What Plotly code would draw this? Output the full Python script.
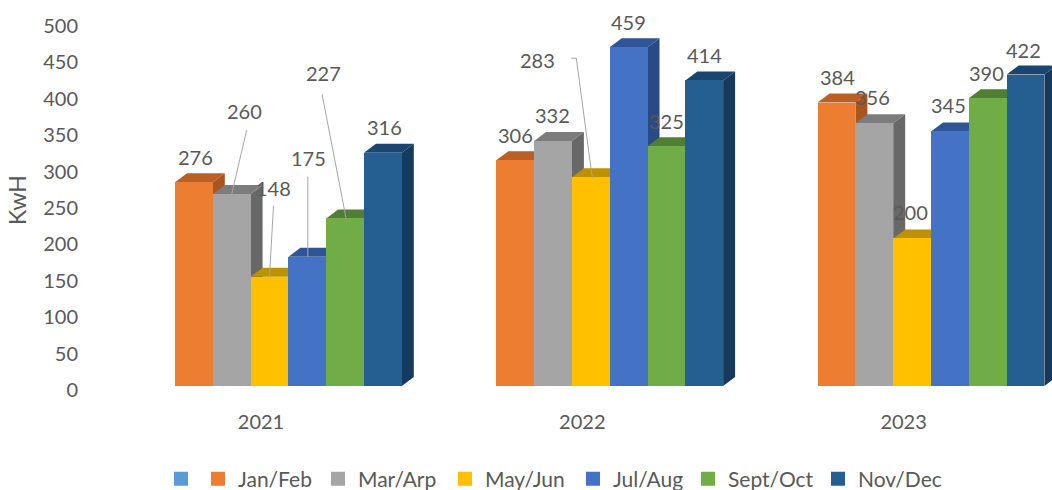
import plotly.graph_objects as go

years = ["2021", "2022", "2023"]
series = ["Jan/Feb", "Mar/Arp", "May/Jun", "Jul/Aug", "Sept/Oct", "Nov/Dec"]
jan_feb = [276, 306, 384]
mar_apr = [260, 332, 356]
may_jun = [148, 283, 200]
jul_aug = [175, 459, 345]
sep_oct = [227, 325, 390]
nov_dec = [316, 414, 422]
values = [jan_feb, mar_apr, may_jun, jul_aug, sep_oct, nov_dec]

front = ["#ED7D31", "#A5A5A5", "#FFC000", "#4472C4", "#70AD47", "#255E91"]
top = ["#BC5F22", "#7C7C7C", "#BF9000", "#2F5597", "#507E32", "#1A4570"]
side = ["#A9561E", "#686868", "#A67D00", "#284A85", "#46702B", "#163A5C"]
TEXT = "#595959"
FONT = "Lato"

W, H = 1052, 490
ML, MR, MT, MB = 84, 0, 0, 90
PW, PH = W - ML - MR, H - MT - MB
GROUP_PX = 321.3
XL0_PX = 261  # pixel of the first category tick
x_range = [(ML - XL0_PX) / GROUP_PX, (W - XL0_PX) / GROUP_PX]
bar_w = 37.8 / GROUP_PX
group_off = -86 / GROUP_PX
BAR_SCALE = 0.738
AX_SCALE = 0.728
y_tick_range = [-(PH - 390) / AX_SCALE, 390 / AX_SCALE]
y_bar_range = [-(PH - 386) / BAR_SCALE, 386 / BAR_SCALE]
DX = 12 / GROUP_PX
DY = 9 / BAR_SCALE


def cx(g, s):
    return g + group_off + (s + 0.5) * bar_w


fig = go.Figure()

# Faces (behind the fronts), left to right
for g in range(len(years)):
    for s in range(len(series)):
        v = values[s][g]
        l = cx(g, s) - bar_w / 2
        r = l + bar_w
        fig.add_trace(go.Scatter(
            x=[r, r + DX, r + DX, r, r], y=[0, DY, v + DY, v, 0], mode="lines",
            fill="toself", fillcolor=side[s], line=dict(width=0), yaxis="y2",
            showlegend=False, hoverinfo="skip"))
        fig.add_trace(go.Scatter(
            x=[l, r, r + DX, l + DX, l], y=[v, v, v + DY, v + DY, v], mode="lines",
            fill="toself", fillcolor=top[s], line=dict(width=0), yaxis="y2",
            showlegend=False, hoverinfo="skip"))

# Fronts
for s in range(len(series)):
    fig.add_trace(go.Bar(
        x=[cx(g, s) for g in range(len(years))], y=values[s], width=bar_w,
        marker=dict(color=front[s], line=dict(width=0)), yaxis="y3",
        showlegend=False, name=series[s]))

# Leader lines: (group, series, px offsets from bar-top centre)
leaders = [
    (0, 1, [(15, 64), (0, 0)]),
    (0, 2, [(4, 71), (0, 0)]),
    (0, 3, [(0.5, 80), (0.5, 0)]),
    (0, 4, [(-23, 124), (1, 0)]),
    (1, 2, [(-19.5, 119), (-14.5, 119), (1.5, -1)]),
]
lx, ly = [], []
for g, s, pts in leaders:
    for dx, dy in pts:
        lx.append(cx(g, s) + dx / GROUP_PX)
        ly.append(values[s][g] + dy / BAR_SCALE)
    lx.append(None)
    ly.append(None)
fig.add_trace(go.Scatter(x=lx, y=ly, mode="lines", yaxis="y3",
                         line=dict(color="#A6A6A6", width=1),
                         showlegend=False, hoverinfo="skip"))

# Data-label offsets in px
label_off = [
    [(2, 25), (0.5, 25), (1, 26)],
    [(13, 83), (-0.5, 26), (-2, 26)],
    [(4, 89), (-53, 117), (-2, 26)],
    [(1, 99), (0, 25), (-1, 26)],
    [(-22, 145), (0, 25), (-1, 25)],
    [(2, 26), (0, 25), (-2, 25)],
]
annotations = []
for s in range(len(series)):
    for g in range(len(years)):
        ox, oy = label_off[s][g]
        annotations.append(dict(
            x=cx(g, s), y=values[s][g], xref="x", yref="y3", text=str(values[s][g]),
            showarrow=False, xshift=ox, yshift=oy, xanchor="center", yanchor="middle",
            font=dict(family=FONT, size=20, color=TEXT)))

# Legend: one legend per entry (blank first series included)
legend_names = [" "] + series
legend_colors = ["#5B9BD5"] + front
legend_centers = [178, 215, 335, 462, 590, 705, 835]
layout_legends = {}
for i, (nm, c, pos) in enumerate(zip(legend_names, legend_colors, legend_centers)):
    key = "legend" if i == 0 else f"legend{i + 1}"
    fig.add_trace(go.Scatter(x=[None], y=[None], mode="markers", name=nm,
                             marker=dict(symbol="square", size=14, color=c),
                             legend=key, showlegend=True, hoverinfo="skip"))
    layout_legends[key] = dict(
        x=(pos - 17 - ML) / PW, y=(PH + MT - 479) / PH, xanchor="left", yanchor="middle",
        bgcolor="rgba(0,0,0,0)", font=dict(family=FONT, size=21, color=TEXT),
        itemwidth=30)

fig.update_layout(
    width=W, height=H, margin=dict(l=ML, r=MR, t=MT, b=MB, pad=0, autoexpand=False),
    paper_bgcolor="white", plot_bgcolor="white", barmode="overlay", bargap=0,
    font=dict(family=FONT, size=20, color=TEXT),
    xaxis=dict(range=x_range, tickvals=list(range(len(years))), ticktext=years,
               showgrid=False, zeroline=False, showline=False, ticks="",
               ticklabelstandoff=8, tickfont=dict(family=FONT, size=20, color=TEXT)),
    yaxis=dict(range=y_tick_range, tick0=0, dtick=50, showgrid=False, zeroline=False,
               showline=False, ticks="", ticklabelstandoff=5,
               tickfont=dict(family=FONT, size=20, color=TEXT),
               title=dict(text="KwH", standoff=10, font=dict(family=FONT, size=23, color=TEXT))),
    yaxis2=dict(range=y_bar_range, overlaying="y", visible=False),
    yaxis3=dict(range=y_bar_range, overlaying="y", visible=False),
    annotations=annotations,
    **layout_legends,
)
fig.write_html("out.html", config={"displayModeBar": False},
               post_script="document.body.style.margin='0';document.body.style.overflow='hidden';")
